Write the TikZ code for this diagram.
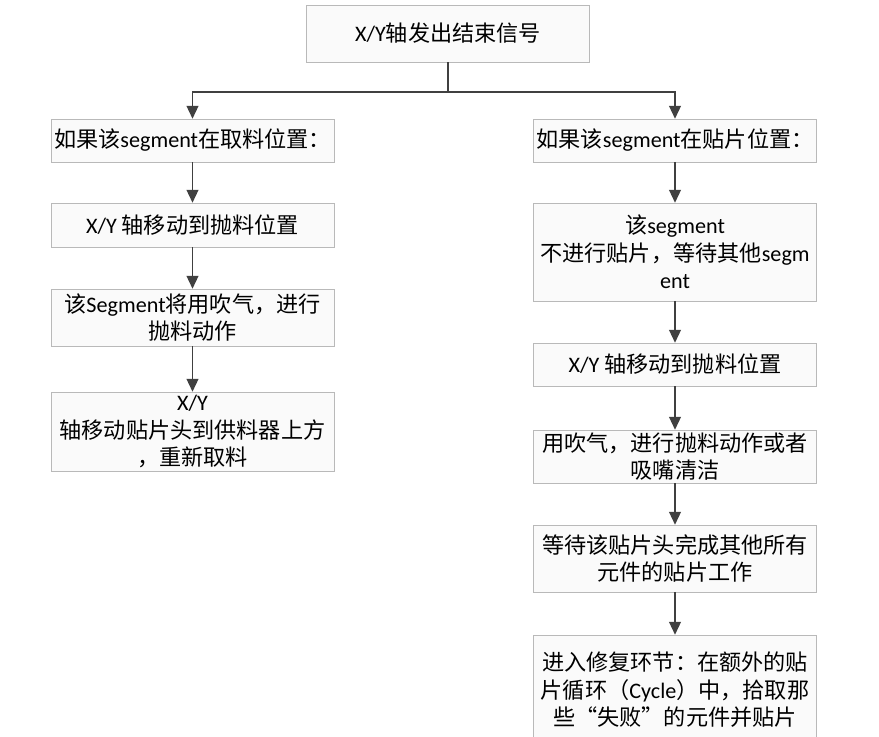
\documentclass[tikz,border=0pt]{standalone}
\usepackage{fontspec}
\setmainfont{Carlito}
\newfontfamily\cjk{Noto Sans CJK SC}
\newcommand{\zh}[1]{{\cjk #1}}
\usetikzlibrary{arrows.meta}

\tikzset{
  box/.style={draw=gray!55, fill=gray!4, minimum width=8.5cm, align=center,
    inner sep=1pt, font=\fontsize{18.9pt}{23.5pt}\selectfont},
  flow/.style={draw=black!75, line width=1.5pt},
  arr/.style={flow, -{Triangle[width=10pt,length=11pt]}}
}

\begin{document}
\begin{tikzpicture}[x=0.03cm, y=-0.03cm]
\useasboundingbox (0,0) rectangle (879,736);

% start
\node[box, minimum height=1.71cm] (start) at (448,33.5) {X/Y\zh{轴发出结束信号}};
\coordinate (split) at (448,92);

% left branch
\node[box, minimum height=1.29cm] (pick) at (192.5,140.5) {\zh{如果该}segment\zh{在取料位置：}};
\node[box, minimum height=1.32cm] (lmove) at (192.5,225) {X/Y \zh{轴移动到抛料位置}};
\node[box, minimum height=1.71cm] (lblow) at (192.5,317.5) {\zh{该}Segment\zh{将用吹气，进行}\\\zh{抛料动作}};
\node[box, minimum height=2.37cm] (refeed) at (192.5,431.5) {X/Y\\\zh{轴移动贴片头到供料器上方}\\\zh{，重新取料}};

% right branch
\node[box, minimum height=1.29cm] (place) at (675,140.5) {\zh{如果该}segment\zh{在贴片位置：}};
\node[box, minimum height=2.94cm] (wait) at (675,252) {\zh{该}segment\\\zh{不进行贴片，等待其他}segm\\ent};
\node[box, minimum height=1.29cm] (rmove) at (675,364.5) {X/Y \zh{轴移动到抛料位置}};
\node[box, minimum height=1.59cm] (rblow) at (675,456.5) {\zh{用吹气，进行抛料动作或者}\\\zh{吸嘴清洁}};
\node[box, minimum height=2.01cm] (finish) at (675,558.5) {\zh{等待该贴片头完成其他所有}\\\zh{元件的贴片工作}};
\node[box, minimum height=3.3cm] (repair) at (675,690) {\zh{进入修复环节：在额外的贴}\\\zh{片循环（}Cycle\zh{）中，拾取那}\\\zh{些“失败”的元件并贴片}};

% connectors
\draw[flow] (start) -- (split);
\draw[arr] (split) -| (pick);
\draw[arr] (split) -| (place);
\draw[arr] (pick) -- (lmove);
\draw[arr] (lmove) -- (lblow);
\draw[arr] (lblow) -- (refeed);
\draw[arr] (place) -- (wait);
\draw[arr] (wait) -- (rmove);
\draw[arr] (rmove) -- (rblow);
\draw[arr] (rblow) -- (finish);
\draw[arr] (finish) -- (repair);
\end{tikzpicture}
\end{document}
